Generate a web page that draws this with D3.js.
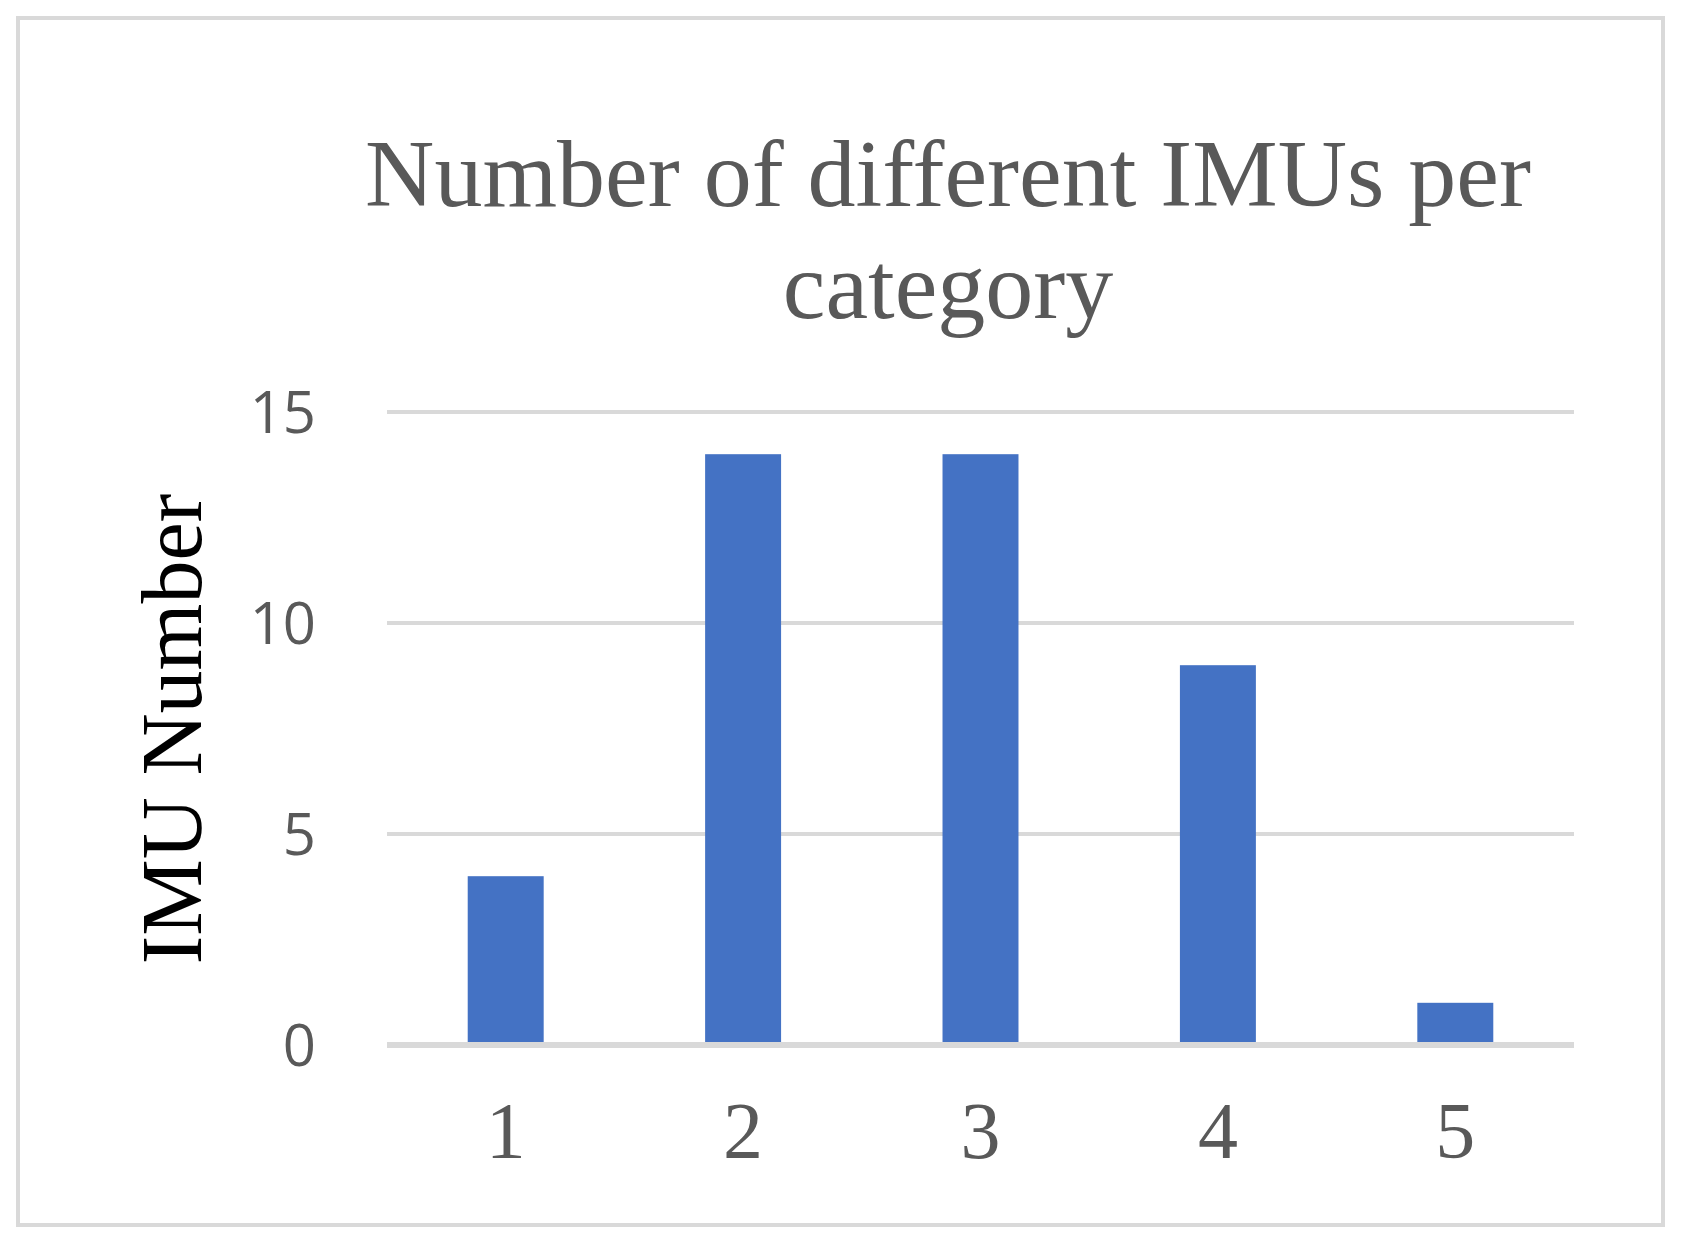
<!DOCTYPE html>
<html><head><meta charset="utf-8">
<script src="https://cdn.jsdelivr.net/npm/d3@7"></script>
<style>body{margin:0;background:#fff}</style></head>
<body><svg id="c" width="1681" height="1248"></svg>
<script>
const categories = ["1","2","3","4","5"];
const values = [4,14,14,9,1];
const yTicks = [0,5,10,15];
const titleLines = ["Number of different IMUs per","category"];
const yLabel = "IMU Number";

const svg = d3.select("#c");
svg.append("rect").attr("x",18).attr("y",18).attr("width",1645).attr("height",1207)
  .attr("fill","#fff").attr("stroke","#d9d9d9").attr("stroke-width",4);

const x = d3.scaleBand().domain(categories).range([387,1574]).paddingInner(0.68).paddingOuter(0.34);
const y = d3.scaleLinear().domain([0,15]).range([1045,412]);

svg.selectAll("line.g").data(yTicks).join("line").attr("class","g")
  .attr("x1",387).attr("x2",1574).attr("y1",d=>y(d)).attr("y2",d=>y(d))
  .attr("stroke","#d9d9d9").attr("stroke-width",d=>d===0?6:4);

svg.selectAll("rect.b").data(values).join("rect").attr("class","b")
  .attr("x",(d,i)=>x(categories[i])).attr("width",x.bandwidth())
  .attr("y",d=>y(d)).attr("height",d=>y(0)-y(d)-3).attr("fill","#4472c4");

svg.selectAll("text.yt").data(yTicks).join("text").attr("class","yt")
  .attr("x",316).attr("y",d=>y(d)+21).attr("text-anchor","end")
  .attr("font-family","Open Sans, sans-serif").attr("font-size",58).attr("fill","#595959")
  .text(d=>d);

svg.selectAll("text.xt").data(categories).join("text").attr("class","xt")
  .attr("x",d=>x(d)+x.bandwidth()/2).attr("y",1158).attr("text-anchor","middle")
  .attr("font-family","Liberation Serif, serif").attr("font-size",80).attr("fill","#595959")
  .text(d=>d);

svg.selectAll("text.t").data(titleLines).join("text").attr("class","t")
  .attr("x",948).attr("y",(d,i)=>206+i*112).attr("text-anchor","middle")
  .attr("font-family","Liberation Serif, serif").attr("font-size",96).attr("fill","#595959")
  .text(d=>d);

svg.append("text").attr("transform","translate(201,729) rotate(-90)")
  .attr("text-anchor","middle").attr("font-family","Liberation Serif, serif")
  .attr("font-size",86).attr("fill","#000").text(yLabel);
</script></body></html>
